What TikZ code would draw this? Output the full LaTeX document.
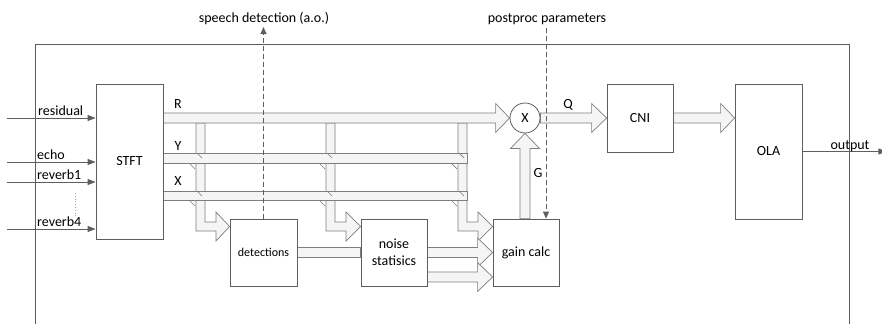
\documentclass[tikz,border=0pt]{standalone}
\usepackage{fontspec}
\setmainfont{Carlito}
\usetikzlibrary{arrows.meta,calc,backgrounds}
\definecolor{edge}{HTML}{5E5E5E}
\definecolor{bandline}{HTML}{7E7E7E}
\definecolor{bandfill}{HTML}{F5F5F5}
\tikzset{
  blk/.style={draw=edge,line width=0.8pt,fill=white,inner sep=0pt,align=center,font=\fontsize{14}{17}\selectfont},
  band/.style={draw=bandline,line width=0.7pt,fill=bandfill,line join=miter},
  tick/.style={draw=bandline,line width=0.7pt},
  sig/.style={draw=edge,line width=0.8pt,-{Triangle[length=8pt,width=6pt]}},
  ctl/.style={draw=edge,line width=0.8pt,dash pattern=on 5pt off 3pt,-{Triangle[length=7pt,width=6pt]}},
  lbl/.style={inner sep=0pt,font=\fontsize{14}{17}\selectfont},
  frame/.style={draw=edge,line width=1pt}
}
% horizontal fat arrow: start, tip, head length
\newcommand\harrow[3]{%
  \path[band] let \p1=(#1), \p2=(#2) in
   (\x1,\y2+5pt) -- (\x2-#3,\y2+5pt) -- (\x2-#3,\y2+14.5pt) -- (\x2,\y2)
   -- (\x2-#3,\y2-14.5pt) -- (\x2-#3,\y2-5pt) -- (\x1,\y2-5pt) -- cycle;}
% vertical tap: left x, right x, head start x, target node
\newcommand\tapband[4]{%
  \path[band] let \p2=(#4.west) in
   (#1pt,-123pt) -- (#1pt,-231pt) -- (#3pt,-231pt) -- (#3pt,-241pt) -- (\x2,-226.5pt)
   -- (#3pt,-212pt) -- (#3pt,-222pt) -- (#2pt,-222pt) -- (#2pt,-123pt) -- cycle;}
\newcommand\crossticks[1]{%
  \draw[tick] (#1+1,153) -- (#1+6,158);
  \draw[tick] (#1-7,163) -- (#1-1,169);
  \draw[tick] (#1+1,191) -- (#1+6,196);
  \draw[tick] (#1-7,200) -- (#1-1,206);}
\begin{document}
\begin{tikzpicture}[x=1pt,y=-1pt]
\useasboundingbox (0,0) rectangle (882,324);

% blocks
\node[blk,minimum width=67pt,minimum height=155pt] (stft) at (129.5,161.5) {STFT};
\node[blk,minimum width=67pt,minimum height=67pt,font=\fontsize{12}{14}\selectfont] (det) at (263.5,252.5) {detections};
\node[blk,minimum width=66pt,minimum height=67pt] (noise) at (394,252.5) {noise\\statisics};
\node[blk,minimum width=66pt,minimum height=67pt] (gain) at (526,252.5) {gain calc};
\node[blk,circle,minimum size=30pt] (mul) at (525,118) {X};
\node[blk,minimum width=66pt,minimum height=68pt] (cni) at (640,118) {CNI};
\node[blk,minimum width=67pt,minimum height=135pt] (ola) at (768.5,151.5) {OLA};

\begin{scope}[on background layer]
  % frame
  \draw[frame] (35,324) -- (35,44) -- (849,44) -- (849,324);
  % taps
  \tapband{196}{205}{216}{det}
  \tapband{326}{335}{346}{noise}
  \tapband{458}{467}{478}{gain}
  % Y and X buses
  \path[band] (163,153) rectangle (467,163);
  \path[band] (163,191) rectangle (467,200);
  \crossticks{196}
  \crossticks{326}
  \crossticks{458}
  % R bus
  \harrow{stft.east |- mul.west}{mul.west}{14pt}
  % detections -> noise
  \path[band] ($(det.east)+(0,-5)$) rectangle ($(noise.west)+(0,5)$);
  % noise -> gain
  \harrow{noise.east}{gain.west}{15pt}
  \harrow{$(noise.east)+(0,24.5)$}{$(gain.west)+(0,24.5)$}{15pt}
  % G arrow
  \path[band] let \p1=(gain.north), \p2=(mul.south) in
    (\x2-5pt,\y1) -- (\x2-5pt,\y2-15pt) -- (\x2-14.5pt,\y2-15pt) -- (\x2,\y2)
    -- (\x2+14.5pt,\y2-15pt) -- (\x2+5pt,\y2-15pt) -- (\x2+5pt,\y1) -- cycle;
  % Q arrow and CNI -> OLA
  \harrow{mul.east}{cni.west}{15pt}
  \harrow{cni.east}{ola.west |- cni.east}{14pt}
\end{scope}

% inputs
\coordinate (in1) at (7,118);
\coordinate (in2) at (7,162);
\coordinate (in3) at (7,182);
\coordinate (in4) at (7,229);
\draw[sig] (in1) -- (in1 -| stft.west);
\draw[sig] (in2) -- (in2 -| stft.west);
\draw[sig] (in3) -- (in3 -| stft.west);
\draw[sig] (in4) -- (in4 -| stft.west);
\node[lbl,anchor=base west] (lres) at (38,115) {residual};
\node[lbl,anchor=base west] (lecho) at (37,159) {echo};
\node[lbl,anchor=base west] (lrev1) at (37,179) {reverb1};
\node[lbl,anchor=base west] (lrev4) at (37,226) {reverb4};
\draw[bandline!70,dotted,line width=0.8pt] (75,193) -- (75,217);

% output
\draw[sig] (ola.east) -- ++(84,0);
\node[lbl,anchor=base] (lout) at (850,149) {output};

% bus labels
\node[lbl] (lR) at (178,104) {R};
\node[lbl] (lY) at (178,146) {Y};
\node[lbl] (lX) at (178,181) {X};
\node[lbl] (lQ) at (568,105) {Q};
\node[lbl] (lG) at (538,173) {G};

% control lines
\coordinate (sd) at (263.5,27);
\draw[ctl] (det.north) -- (sd);
\node[lbl,anchor=base] (lsd) at (264,22) {speech detection (a.o.)};
\coordinate (pp) at (546,28);
\draw[ctl] (pp) -- (pp |- gain.north);
\node[lbl,anchor=base] (lpp) at (547,22) {postproc parameters};
\end{tikzpicture}
\end{document}
